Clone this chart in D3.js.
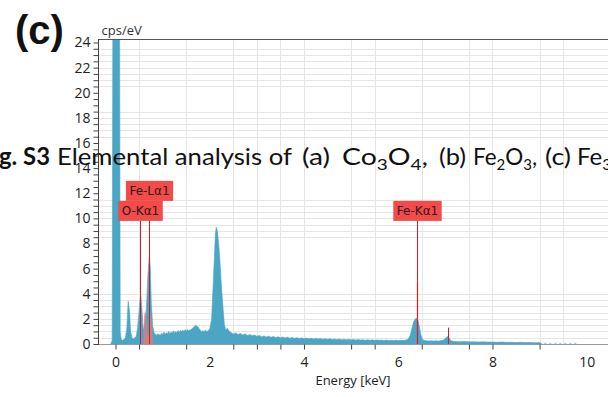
<!DOCTYPE html>
<html>
<head>
<meta charset="utf-8">
<script src="https://cdn.jsdelivr.net/npm/d3@7"></script>
<style>
  html, body { margin: 0; padding: 0; background: #fff; }
  svg { display: block; }
</style>
</head>
<body>
<div id="container"></div>
<script>
// -- spectrum, [keV, cps/eV]
const zeroPeak = [[-0.10, 0], [-0.07, 0.3], [-0.055, 30], [0.085, 30], [0.10, 1.0], [0.12, 0.4]];
const lightElements = [[0.15, 0.3], [0.18, 0.35], [0.21, 0.5], [0.24, 1.2], [0.26, 2.8], [0.27, 3.4], [0.30, 2.5],
  [0.32, 1.0], [0.35, 0.5], [0.38, 0.4], [0.41, 0.5], [0.44, 0.6], [0.47, 1.3], [0.50, 2.6], [0.52, 3.5], [0.54, 3.8],
  [0.56, 2.8], [0.59, 1.1], [0.62, 1.5], [0.65, 2.3], [0.67, 4.0], [0.69, 5.6], [0.72, 7.1], [0.74, 6.0], [0.76, 3.2],
  [0.79, 1.4], [0.82, 0.9], [0.86, 0.7], [0.90, 0.8]];
const midRange = [[0.95, 0.7], [0.98, 0.85], [1.00, 0.75], [1.03, 0.95], [1.05, 0.78], [1.08, 0.9], [1.10, 0.8],
  [1.13, 1.0], [1.15, 0.82], [1.18, 0.95], [1.20, 0.86], [1.23, 1.05], [1.25, 0.88], [1.28, 1.0], [1.30, 0.9],
  [1.33, 1.08], [1.35, 0.92], [1.38, 1.1], [1.40, 0.98], [1.43, 1.12], [1.45, 0.98], [1.48, 1.15], [1.50, 1.02],
  [1.53, 1.15], [1.55, 1.04], [1.60, 1.15], [1.65, 1.3], [1.70, 1.5], [1.75, 1.35], [1.80, 1.1], [1.83, 0.95],
  [1.85, 1.08], [1.88, 0.95], [1.90, 1.1], [1.95, 1.0], [2.00, 1.2], [2.04, 2.0],
  [2.07, 4.5], [2.10, 7.0], [2.12, 8.8], [2.14, 9.3], [2.16, 9.0], [2.19, 8.0], [2.22, 6.4], [2.25, 4.5],
  [2.28, 3.0], [2.31, 1.6], [2.34, 1.1], [2.37, 1.25], [2.42, 1.0]];
const background = [[2.45, 0.92], [2.50, 0.8], [2.55, 0.88], [2.60, 0.76], [2.65, 0.84], [2.70, 0.72], [2.75, 0.8],
  [2.80, 0.68], [2.85, 0.75], [2.90, 0.66], [2.95, 0.72], [3.00, 0.62], [3.05, 0.68], [3.10, 0.58], [3.15, 0.64],
  [3.20, 0.56], [3.25, 0.62], [3.30, 0.54], [3.35, 0.6], [3.40, 0.52], [3.45, 0.57], [3.50, 0.5], [3.55, 0.55],
  [3.60, 0.48], [3.65, 0.53], [3.70, 0.46], [3.75, 0.52], [3.80, 0.45], [3.85, 0.5], [3.90, 0.44], [3.95, 0.48],
  [4.00, 0.42], [4.05, 0.47], [4.10, 0.41], [4.15, 0.45], [4.20, 0.4], [4.25, 0.44], [4.30, 0.39], [4.35, 0.43],
  [4.40, 0.38], [4.45, 0.42], [4.50, 0.37], [4.55, 0.41], [4.60, 0.36], [4.65, 0.4], [4.70, 0.35], [4.75, 0.39],
  [4.80, 0.34], [4.85, 0.38], [4.90, 0.33], [4.95, 0.37], [5.00, 0.33], [5.05, 0.36], [5.10, 0.32], [5.15, 0.35],
  [5.20, 0.31], [5.25, 0.34], [5.30, 0.3], [5.35, 0.34], [5.40, 0.3], [5.45, 0.33], [5.50, 0.29], [5.55, 0.32],
  [5.60, 0.29], [5.65, 0.31], [5.70, 0.28], [5.75, 0.31], [5.80, 0.28], [5.85, 0.3], [5.90, 0.27], [5.95, 0.3],
  [6.00, 0.27], [6.05, 0.29], [6.10, 0.28], [6.15, 0.3], [6.20, 0.36]];
const ironK = [[6.24, 0.55], [6.27, 0.9], [6.30, 1.4], [6.33, 1.8], [6.36, 2.0], [6.39, 2.05], [6.42, 1.85],
  [6.45, 1.35], [6.48, 0.75], [6.51, 0.4], [6.55, 0.28], [6.60, 0.26], [6.65, 0.24], [6.70, 0.26], [6.75, 0.23],
  [6.80, 0.25], [6.85, 0.23], [6.90, 0.26], [6.95, 0.3], [7.00, 0.42], [7.03, 0.55], [7.06, 0.6], [7.09, 0.42],
  [7.12, 0.26], [7.16, 0.22]];
const highEnergy = [[7.2, 0.2], [7.3, 0.18], [7.4, 0.2], [7.5, 0.17], [7.6, 0.18], [7.7, 0.16], [7.8, 0.17],
  [7.9, 0.15], [8.0, 0.16], [8.1, 0.14], [8.2, 0.15], [8.3, 0.13], [8.4, 0.14], [8.5, 0.12], [8.6, 0.13],
  [8.7, 0.11], [8.8, 0.12], [8.9, 0.1], [9.0, 0.11], [9.05, 0]];
const tailDots = [[9.1, 0.08], [9.8, 0.08]];
// deconvolution overlay between O and Fe-L
const fitOverlay = [[0.59, 0], [0.61, 2.2], [0.63, 2.7], [0.65, 2.3], [0.67, 1.2], [0.69, 0.5], [0.71, 0.9],
  [0.74, 2.5], [0.76, 2.3], [0.78, 0.9], [0.80, 0]];

// -- element markers
const markerNames = ['O-Kα1', 'Fe-Lα1', 'Fe-Kα1'];
const markerKeV = [0.52, 0.715, 6.39];
const markerRow = [0, 1, 0];
const markerTop = 9.8;            // cps/eV where the lower label row sits
const minorLines = [[7.06, 1.3]]; // unlabeled Fe-Kβ line
const peakHighlight = [[6.39, 4.9]];

// -- axes
const xTicks = [0, 0.5, 1.5, 2.5, 3, 3.5, 4, 5, 5.5, 6.5, 7.5, 8, 9];
const xGrid = [0.5, 1.5, 2.5, 3, 3.5, 4, 5, 5.5, 6.5, 7.5, 8, 9, 9.5];
const xLabels = [0, 2, 4, 6, 8, 10];
const yTicks = d3.range(0, 24.01, 0.5);
const yLabels = [0, 2, 4, 6, 8, 10, 12, 14, 16, 18, 20, 22, 24];
const yGrid = [0.5, 1, 1.5, 2, 2.5, 3, 3.5, 4, 8.5, 9, 9.5, 10, 10.5, 11, 11.5, 16.5, 17, 17.5, 18, 18.5,
  20.5, 21, 21.5, 22, 22.5, 23, 23.5];

// -- caption words (justified line of the figure caption), [text, subscript?]
const captionPieces = [
  { x: 57, parts: [['Elemental analysis of', false]], len: 235 },
  { x: 302, parts: [['(a)', false]], len: 28 },
  { x: 342, parts: [['Co', false], ['3', true], ['O', false], ['4', true], [',', false]], len: 86 },
  { x: 439, parts: [['(b)', false]], len: 27 },
  { x: 473, parts: [['Fe', false], ['2', true], ['O', false], ['3', true], [',', false]], len: 64 },
  { x: 545, parts: [['(c)', false]], len: 26 },
  { x: 577, parts: [['Fe', false], ['3', true]] }
];

const width = 608, height = 397;
const plot = { left: 98, right: 608, top: 39, bottom: 344 };
const blue = '#4ba6c6';
const red = '#d41c22';

const x = d3.scaleLinear().domain([0, 10]).range([115.5, 586.7]);
const y = d3.scaleLinear().domain([0, 24]).range([344, 42.5]);

const svg = d3.select('#container').append('svg')
  .attr('width', width)
  .attr('height', height)
  .attr('viewBox', [0, 0, width, height]);

svg.append('defs').append('clipPath').attr('id', 'plot-clip')
  .append('rect')
  .attr('x', plot.left).attr('y', plot.top)
  .attr('width', plot.right - plot.left).attr('height', plot.bottom - plot.top);

// -- grid
const grid = svg.append('g').attr('stroke', '#e6e6e6').attr('stroke-width', 1);
grid.selectAll('line.v').data(xGrid).join('line')
  .attr('class', 'v')
  .attr('x1', d => Math.round(x(d)) + 0.5).attr('x2', d => Math.round(x(d)) + 0.5)
  .attr('y1', plot.top).attr('y2', plot.bottom);
grid.selectAll('line.h').data(yGrid).join('line')
  .attr('class', 'h')
  .attr('x1', plot.left).attr('x2', plot.right)
  .attr('y1', d => Math.round(y(d)) + 0.5).attr('y2', d => Math.round(y(d)) + 0.5);

// -- spectrum
const spectrum = [...zeroPeak, ...lightElements, ...midRange, ...background, ...ironK, ...highEnergy];
const area = d3.area().x(d => x(d[0])).y0(y(0)).y1(d => y(d[1]));
const body = svg.append('g').attr('clip-path', 'url(#plot-clip)');
body.append('path')
  .datum(spectrum)
  .attr('fill', blue)
  .attr('stroke', blue)
  .attr('stroke-width', 0.6)
  .attr('d', area);
body.append('path')
  .datum(tailDots)
  .attr('fill', 'none')
  .attr('stroke', '#9fcde0')
  .attr('stroke-width', 1.5)
  .attr('stroke-dasharray', '2,3')
  .attr('d', d3.line().x(d => x(d[0])).y(d => y(d[1]) + 0.5));
body.append('path')
  .datum(fitOverlay)
  .attr('fill', '#e07a7a')
  .attr('opacity', 0.85)
  .attr('d', area);

// -- marker lines
const markers = markerNames.map((name, i) => ({ name, keV: markerKeV[i], row: markerRow[i] }));
const boxH = 20;
body.selectAll('line.marker').data(markers).join('line')
  .attr('class', 'marker')
  .attr('x1', d => Math.round(x(d.keV)) + 0.5).attr('x2', d => Math.round(x(d.keV)) + 0.5)
  .attr('y1', y(0)).attr('y2', d => y(markerTop) - d.row * boxH)
  .attr('stroke', red).attr('stroke-width', 1);
body.selectAll('line.minor').data(minorLines).join('line')
  .attr('class', 'minor')
  .attr('x1', d => Math.round(x(d[0])) + 0.5).attr('x2', d => Math.round(x(d[0])) + 0.5)
  .attr('y1', y(0)).attr('y2', d => y(d[1]))
  .attr('stroke', '#e0161c').attr('stroke-width', 1);
body.selectAll('line.hl').data(peakHighlight).join('line')
  .attr('class', 'hl')
  .attr('x1', d => Math.round(x(d[0])) + 0.5).attr('x2', d => Math.round(x(d[0])) + 0.5)
  .attr('y1', y(0)).attr('y2', d => y(d[1]))
  .attr('stroke', '#f0141c').attr('stroke-width', 1.2);

// -- frame
svg.append('line')
  .attr('x1', plot.left).attr('x2', plot.right)
  .attr('y1', plot.top + 0.5).attr('y2', plot.top + 0.5)
  .attr('stroke', '#555');
svg.append('line')
  .attr('x1', plot.left).attr('x2', plot.right)
  .attr('y1', plot.bottom + 0.5).attr('y2', plot.bottom + 0.5)
  .attr('stroke', '#9a9a9a');
svg.append('line')
  .attr('x1', plot.left + 0.5).attr('x2', plot.left + 0.5)
  .attr('y1', plot.top).attr('y2', plot.bottom + 1)
  .attr('stroke', '#444');

// -- y axis
const yAxis = svg.append('g')
  .attr('transform', `translate(${plot.left + 0.5},0)`)
  .call(d3.axisLeft(y).tickValues(yTicks).tickSize(5).tickPadding(3)
    .tickFormat(d => yLabels.includes(d) ? d : ''));
yAxis.select('.domain').remove();
yAxis.selectAll('.tick line').attr('stroke', '#444');
yAxis.selectAll('.tick text')
  .attr('fill', '#222')
  .style('font-family', '"Open Sans", sans-serif')
  .style('font-size', '14px');

// -- x axis: tick marks and labels sit at different places
const xTickAxis = svg.append('g')
  .attr('transform', `translate(0,${plot.bottom + 0.5})`)
  .call(d3.axisBottom(x).tickValues(xTicks).tickSize(5).tickFormat(''));
xTickAxis.select('.domain').remove();
xTickAxis.selectAll('.tick line').attr('stroke', '#444');

const xLabelAxis = svg.append('g')
  .attr('transform', `translate(0,${plot.bottom})`)
  .call(d3.axisBottom(x).tickValues(xLabels).tickSize(0).tickPadding(13));
xLabelAxis.select('.domain').remove();
xLabelAxis.selectAll('.tick text')
  .attr('fill', '#222')
  .style('font-family', '"Open Sans", sans-serif')
  .style('font-size', '14px');

svg.append('text')
  .attr('x', 101.5).attr('y', 35)
  .attr('fill', '#333')
  .style('font-family', '"Open Sans", sans-serif')
  .style('font-size', '13px')
  .text('cps/eV');

svg.append('text')
  .attr('x', 353).attr('y', 385)
  .attr('text-anchor', 'middle')
  .attr('fill', '#222')
  .style('font-family', '"Open Sans", sans-serif')
  .style('font-size', '13px')
  .text('Energy [keV]');

// -- label boxes
const labels = svg.append('g')
  .selectAll('g')
  .data(markers)
  .join('g')
  .attr('transform', d => `translate(${Math.round(x(d.keV)) + 0.5},${y(markerTop) - d.row * boxH})`);
labels.append('rect').attr('fill', '#f34a4a');
labels.append('text')
  .attr('text-anchor', 'middle')
  .attr('y', -5.5)
  .attr('fill', '#2a1a1a')
  .style('font-family', '"DejaVu Sans", sans-serif')
  .style('font-size', '12px')
  .text(d => d.name);
labels.each(function () {
  const g = d3.select(this);
  const w = g.select('text').node().getComputedTextLength() + 7;
  g.select('rect').attr('x', -w / 2).attr('y', -boxH).attr('width', w).attr('height', boxH);
});

// -- figure caption bleeding over the chart and the panel letter
svg.append('text')
  .attr('x', 15).attr('y', 44)
  .attr('fill', '#111')
  .style('font-family', '"Liberation Sans", Arial, sans-serif')
  .style('font-weight', 'bold')
  .style('font-size', '40px')
  .text('(c)');

const caption = svg.append('g')
  .attr('fill', '#111')
  .style('font-family', 'Lato, sans-serif')
  .style('font-size', '24px');
caption.append('text')
  .attr('x', -1).attr('y', 165)
  .attr('textLength', 51).attr('lengthAdjust', 'spacingAndGlyphs')
  .style('font-weight', 'bold')
  .text('g. S3');
caption.selectAll('text.piece')
  .data(captionPieces)
  .join('text')
  .attr('class', 'piece')
  .attr('x', d => d.x).attr('y', 165)
  .each(function (d) {
    const t = d3.select(this);
    if (d.len) t.attr('textLength', d.len).attr('lengthAdjust', 'spacingAndGlyphs');
    d.parts.forEach(([s, sub], i) => {
      const prevSub = i > 0 && d.parts[i - 1][1];
      t.append('tspan')
        .attr('dy', sub ? 5 : (prevSub ? -5 : 0))
        .style('font-size', sub ? '16px' : null)
        .text(s);
    });
  });
</script>
</body>
</html>
